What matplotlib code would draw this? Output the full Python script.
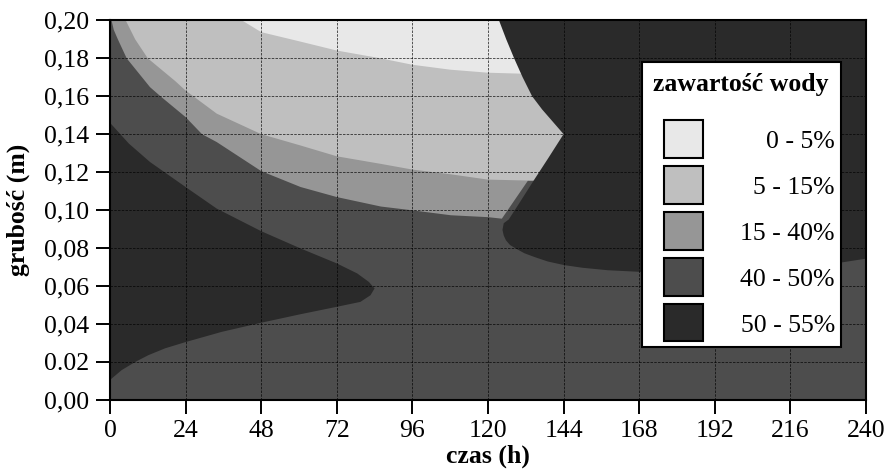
import matplotlib
matplotlib.use("Agg")
import matplotlib.pyplot as plt
from matplotlib.patches import Rectangle

plt.rcParams['font.family'] = ['Liberation Serif', 'DejaVu Serif']

# kolory stref zawartosci wody
labels = ['0 - 5%', '5 - 15%', '15 - 40%', '40 - 50%', '50 - 55%']
colors = ['#e8e8e8', '#bfbfbf', '#969696', '#4d4d4d', '#2a2a2a']

x_ticks = [0, 24, 48, 72, 96, 120, 144, 168, 192, 216, 240]
y_ticks = [0.00, 0.02, 0.04, 0.06, 0.08, 0.10, 0.12, 0.14, 0.16, 0.18, 0.20]
y_ticklabels = ['0,00', '0.02', '0,04', '0,06', '0,08', '0,10', '0,12', '0,14', '0,16', '0,18', '0,20']

# granica 15-40% / 40-50% (czas h, grubosc m)
b1540_t = [0.5, 1.2, 2.5, 5.3, 12.7, 16.0, 24.0, 29.2, 33.9, 48.0, 60.5, 72.0, 86.0, 96.0, 108.2, 120.0, 124.4, 132.7]
b1540_h = [0.200, 0.195, 0.190, 0.180, 0.1648, 0.160, 0.149, 0.140, 0.1358, 0.1205, 0.1121, 0.1068, 0.1018, 0.0998, 0.0972, 0.0962, 0.0954, 0.1155]

# granica 5-15% / 15-40%
b515_t = [5.0, 8.0, 12.0, 20.7, 24.0, 33.9, 48.0, 60.5, 72.0, 86.0, 96.0, 108.2, 120.0, 133.2]
b515_h = [0.200, 0.190, 0.180, 0.168, 0.163, 0.1508, 0.140, 0.134, 0.1283, 0.1243, 0.1213, 0.1188, 0.116, 0.1155]

# granica 0-5% / 5-15%
b05_t = [41.9, 48.0, 60.0, 72.0, 85.9, 96.0, 108.0, 120.0, 130.4]
b05_h = [0.200, 0.1938, 0.189, 0.1841, 0.180, 0.1766, 0.174, 0.1724, 0.1719]

# granica prawego obszaru 50-55%
dr_t = [123.5, 125.8, 128.3, 131.0, 134.0, 137.2, 140.6, 144.0, 139.2, 134.5, 130.1, 126.6, 125.0,
        124.6, 125.0, 125.7, 127.0, 128.9, 131.5, 134.7, 139.0, 144.2, 150.0, 158.0, 168.8,
        180.0, 192.0, 204.0, 216.0, 228.0, 240.0]
dr_h = [0.200, 0.190, 0.180, 0.170, 0.160, 0.153, 0.1465, 0.140, 0.1275, 0.1155, 0.104, 0.095, 0.093,
        0.0895, 0.0865, 0.084, 0.0815, 0.0796, 0.0772, 0.0752, 0.0728, 0.0709, 0.0695, 0.0682, 0.0673,
        0.0669, 0.0670, 0.0677, 0.0690, 0.0712, 0.0743]

# granica lewego obszaru 50-55%
dl_t = [0.0, 3.7, 8.0, 12.2, 17.5, 24.0, 35.5, 48.0, 60.5, 72.0, 79.5, 82.7, 84.0, 82.2, 78.5, 72.0,
        60.5, 48.0, 33.9, 24.0, 12.7, 6.0, 0.0]
dl_h = [0.0103, 0.0155, 0.0198, 0.0234, 0.027, 0.0303, 0.0357, 0.0405, 0.045, 0.0489, 0.0515, 0.055,
        0.0586, 0.062, 0.0665, 0.0718, 0.0797, 0.0888, 0.1007, 0.1121, 0.1253, 0.135, 0.146]

fig = plt.figure(figsize=(8.87, 4.70), dpi=100)
ax = fig.add_axes([0.124, 0.150, 0.8523, 0.8066])
ax.set_xlim(0, 240)
ax.set_ylim(0, 0.2)

# tlo = 40-50%
ax.set_facecolor(colors[3])

# 15-40%
ax.fill(b1540_t + [150, 150], b1540_h + [0.1155, 0.2], color=colors[2], lw=0, zorder=1)
# 5-15%
ax.fill(b515_t + [150, 150], b515_h + [0.1155, 0.2], color=colors[1], lw=0, zorder=1.1)
# 0-5%
ax.fill(b05_t + [150, 150], b05_h + [0.1719, 0.2], color=colors[0], lw=0, zorder=1.2)
# 50-55% prawy
ax.fill(dr_t + [240], dr_h + [0.2], color=colors[4], lw=0, zorder=1.3)
# 50-55% lewy
ax.fill(dl_t, dl_h, color=colors[4], lw=0, zorder=1.3)

ax.set_xticks(x_ticks)
ax.set_yticks(y_ticks)
ax.set_yticklabels(y_ticklabels)
ax.tick_params(direction='out', length=10, width=1.4, labelsize=18.5, pad=5, color='black')
ax.grid(True, color='black', linestyle=(0, (3, 1.5)), linewidth=0.6, alpha=0.75)
ax.set_axisbelow(False)
for s in ax.spines.values():
    s.set_linewidth(1.5)
    s.set_zorder(6)

ax.set_xlabel('czas (h)', fontsize=18.5, fontweight='bold')
ax.xaxis.set_label_coords(0.5, -0.118)
ax.set_ylabel('grubość (m)', fontsize=18.5, fontweight='bold')
ax.yaxis.set_label_coords(-0.106, 0.5)

# legenda rysowana recznie
ax.add_patch(Rectangle((0.704, 0.138), 0.263, 0.751, transform=ax.transAxes,
                       facecolor='white', edgecolor='black', lw=1.5, zorder=5))
ax.text(0.834, 0.832, 'zawartość wody', transform=ax.transAxes, ha='center', va='center',
        fontsize=18.5, fontweight='bold', zorder=7)
for i, (lab, c) in enumerate(zip(labels, colors)):
    yb = 0.637 - i * 0.121
    ax.add_patch(Rectangle((0.733, yb), 0.0516, 0.100, transform=ax.transAxes,
                           facecolor=c, edgecolor='black', lw=1.5, zorder=7))
    ax.text(0.959, yb + 0.042, lab, transform=ax.transAxes, ha='right', va='center',
            fontsize=18.5, zorder=7)

fig.savefig('out.png', dpi=100)
